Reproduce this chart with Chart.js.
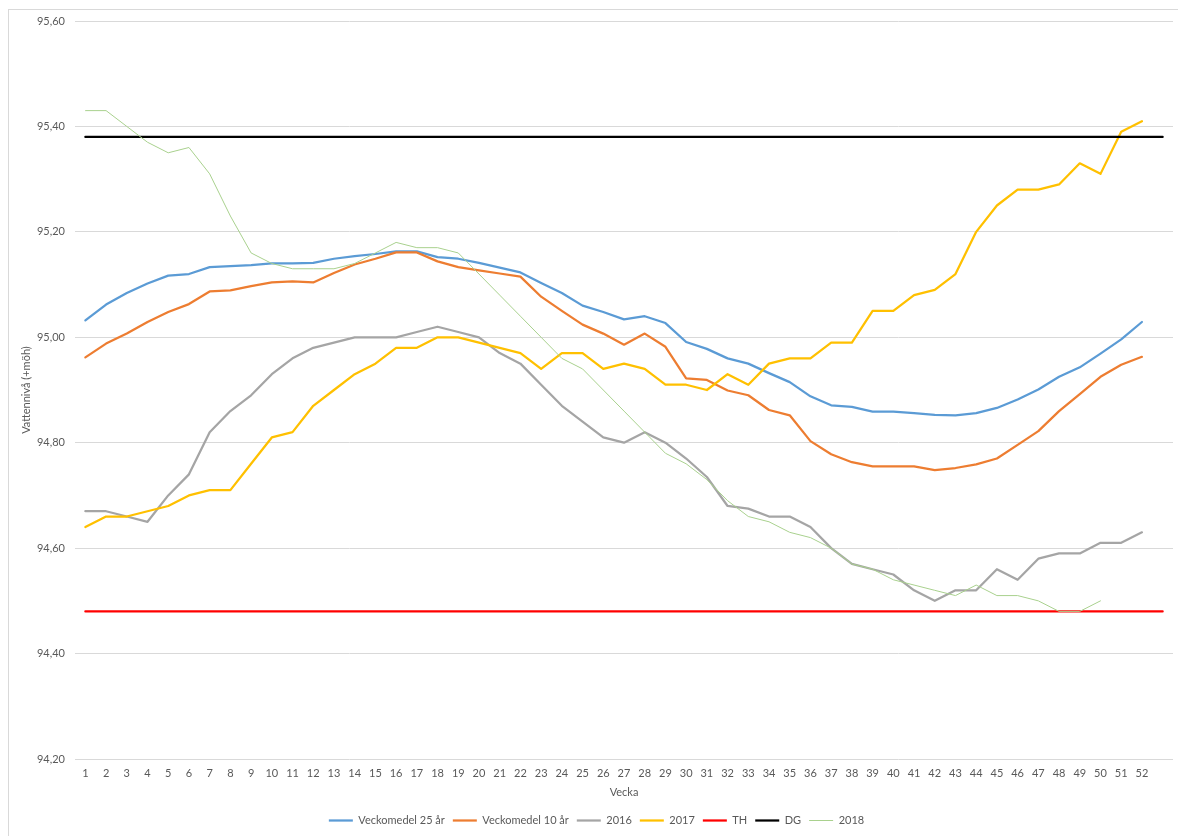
<!DOCTYPE html>
<html lang="sv">
<head>
<meta charset="utf-8">
<title>Vattennivå per vecka</title>
<script src="https://cdn.jsdelivr.net/npm/chart.js@4.4.1/dist/chart.umd.min.js"></script>
<style>
  html, body { margin: 0; padding: 0; background: #fff; }
  #wrap { position: relative; width: 1178px; height: 836px; overflow: hidden; }
  #frame {
    position: absolute; left: 8px; top: 9px; width: 1200px; height: 900px;
    border-top: 1px solid #d9d9d9; border-left: 1px solid #d9d9d9;
  }
  #chart { position: absolute; left: 0; top: 0; }
</style>
</head>
<body>
<div id="wrap">
  <div id="frame"></div>
  <canvas id="chart" width="1178" height="836"></canvas>
</div>
<script>
// Weeks 1-52 plus one empty category (Excel leaves room for it)
const weeks = [];
for (let w = 1; w <= 52; w++) weeks.push(String(w));
weeks.push('');

const mean25 = [
  95.032, 95.062, 95.084, 95.102, 95.117, 95.120, 95.133, 95.135, 95.137, 95.140,
  95.140, 95.141, 95.149, 95.154, 95.158, 95.163, 95.163, 95.152, 95.149, 95.141,
  95.132, 95.123, 95.103, 95.084, 95.060, 95.048, 95.034, 95.040, 95.027, 94.991,
  94.978, 94.960, 94.950, 94.932, 94.915, 94.888, 94.871, 94.868, 94.859, 94.859,
  94.856, 94.853, 94.852, 94.856, 94.866, 94.882, 94.901, 94.925, 94.943, 94.969,
  94.996, 95.029
];

const mean10 = [
  94.962, 94.988, 95.007, 95.029, 95.048, 95.063, 95.087, 95.089, 95.097, 95.104,
  95.106, 95.104, 95.122, 95.138, 95.149, 95.161, 95.161, 95.144, 95.133, 95.127,
  95.121, 95.115, 95.077, 95.050, 95.024, 95.007, 94.986, 95.007, 94.982, 94.922,
  94.919, 94.899, 94.890, 94.862, 94.852, 94.803, 94.778, 94.763, 94.755, 94.755,
  94.755, 94.748, 94.752, 94.759, 94.770, 94.796, 94.822, 94.860, 94.892, 94.925,
  94.948, 94.963
];

const y2016 = [
  94.67, 94.67, 94.66, 94.65, 94.70, 94.74, 94.82, 94.86, 94.89, 94.93,
  94.96, 94.98, 94.99, 95.00, 95.00, 95.00, 95.01, 95.02, 95.01, 95.00,
  94.97, 94.95, 94.91, 94.87, 94.84, 94.81, 94.80, 94.82, 94.80, 94.77,
  94.735, 94.68, 94.675, 94.66, 94.66, 94.64, 94.60, 94.57, 94.56, 94.55,
  94.52, 94.50, 94.52, 94.52, 94.56, 94.54, 94.58, 94.59, 94.59, 94.61,
  94.61, 94.63
];

const y2017 = [
  94.64, 94.66, 94.66, 94.67, 94.68, 94.70, 94.71, 94.71, 94.76, 94.81,
  94.82, 94.87, 94.90, 94.93, 94.95, 94.98, 94.98, 95.00, 95.00, 94.99,
  94.98, 94.97, 94.94, 94.97, 94.97, 94.94, 94.95, 94.94, 94.91, 94.91,
  94.90, 94.93, 94.91, 94.95, 94.96, 94.96, 94.99, 94.99, 95.05, 95.05,
  95.08, 95.09, 95.12, 95.20, 95.25, 95.28, 95.28, 95.29, 95.33, 95.31,
  95.39, 95.41
];

const y2018 = [
  95.43, 95.43, 95.40, 95.37, 95.35, 95.36, 95.31, 95.23, 95.16, 95.14,
  95.13, 95.13, 95.13, 95.14, 95.16, 95.18, 95.17, 95.17, 95.16, 95.12,
  95.08, 95.04, 95.00, 94.96, 94.94, 94.90, 94.86, 94.82, 94.78, 94.76,
  94.73, 94.69, 94.66, 94.65, 94.63, 94.62, 94.60, 94.57, 94.56, 94.54,
  94.53, 94.52, 94.51, 94.53, 94.51, 94.51, 94.50, 94.48, 94.48, 94.50
];

// Threshold levels, drawn across all 53 categories
const th = weeks.map(() => 94.48);
const dg = weeks.map(() => 95.38);

const textColor = '#595959';
const gridColor = '#d9d9d9';
const font = { family: 'Lato', size: 11 };

function line(label, data, color, width, order) {
  return {
    label, data,
    borderColor: color,
    backgroundColor: color,
    borderWidth: width,
    pointRadius: 0,
    pointHoverRadius: 0,
    tension: 0,
    borderJoinStyle: 'round',
    borderCapStyle: 'round',
    order
  };
}

new Chart(document.getElementById('chart'), {
  type: 'line',
  data: {
    labels: weeks,
    datasets: [
      line('Veckomedel 25 år', mean25, '#5b9bd5', 2.25, 7),
      line('Veckomedel 10 år', mean10, '#ed7d31', 2.25, 6),
      line('2016', y2016, '#a5a5a5', 2.25, 5),
      line('2017', y2017, '#ffc000', 2.25, 4),
      line('TH', th, '#ff0000', 2.25, 3),
      line('DG', dg, '#000000', 2.25, 2),
      line('2018', y2018, '#a9d18e', 1, 1)
    ]
  },
  options: {
    responsive: false,
    animation: false,
    events: [],
    layout: { padding: { left: 20, right: 5, top: 21, bottom: 0 } },
    plugins: {
      tooltip: { enabled: false },
      legend: {
        position: 'bottom',
        labels: {
          color: textColor,
          font,
          usePointStyle: true,
          pointStyle: 'line',
          pointStyleWidth: 24,
          padding: 8,
          sort: (a, b) => a.datasetIndex - b.datasetIndex
        }
      }
    },
    scales: {
      x: {
        offset: true,
        grid: { display: false, drawTicks: false },
        border: { display: false },
        ticks: { color: textColor, font, padding: 8, maxRotation: 0, autoSkip: false },
        title: { display: true, text: 'Vecka', color: textColor, font, padding: { top: 4, bottom: 8 } },
        afterFit: s => { s.height = 48; }
      },
      y: {
        min: 94.2,
        max: 95.6,
        grid: { color: gridColor, lineWidth: 1, drawTicks: false },
        border: { display: false },
        ticks: {
          stepSize: 0.2,
          color: textColor,
          font,
          padding: 10,
          callback: v => v.toFixed(2).replace('.', ',')
        },
        title: { display: true, text: 'Vattennivå (+möh)', color: textColor, font, padding: 0 },
        afterFit: s => { s.width = 55; }
      }
    }
  }
});
</script>
</body>
</html>
